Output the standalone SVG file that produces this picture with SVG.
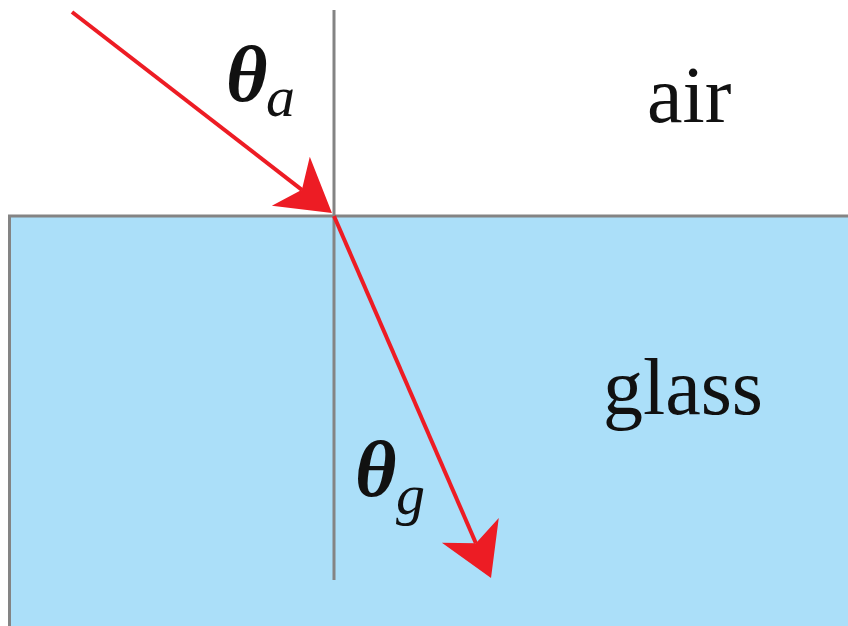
<svg xmlns="http://www.w3.org/2000/svg" width="848" height="626" viewBox="0 0 848 626">
<style>
.gray{stroke:#848484;stroke-width:3;fill:none}
.ray{stroke:#ed1c24;stroke-width:4;fill:none}
.lbl{font-family:"Liberation Serif","Times New Roman",serif;fill:#111}
.th{font-weight:bold;font-style:italic;font-size:80px}
.sub{font-style:italic;font-size:58px}
.med{font-size:80px}
</style>
<defs>
<marker id="ah" markerUnits="userSpaceOnUse" markerWidth="60" markerHeight="70" viewBox="0 -35 60 70" refX="14" refY="0" orient="auto" overflow="visible">
<path d="M52,0 L0,-31 L14,0 L0,31 Z" fill="#ed1c24"/>
</marker>
</defs>
<rect width="848" height="626" fill="#fff"/>
<g id="glass">
<rect x="9.5" y="216" width="840" height="412" fill="#abdff9"/>
<path class="gray" d="M9.5,626 V216 H848"/>
</g>
<g id="normal">
<line class="gray" x1="334" y1="10" x2="334" y2="580"/>
</g>
<g id="connectors">
<line class="ray" x1="72" y1="12" x2="301.9" y2="189.8" marker-end="url(#ah)"/>
<line class="ray" x1="334" y1="216" x2="475.9" y2="543.2" marker-end="url(#ah)"/>
</g>
<g id="theta-a">
<text class="lbl th" x="226" y="101">θ</text>
<text class="lbl sub" x="266" y="116">a</text>
</g>
<g id="theta-g">
<text class="lbl th" x="355" y="496">θ</text>
<text class="lbl sub" x="396" y="514">g</text>
</g>
<g id="air"><text class="lbl med" x="647" y="122">air</text></g>
<g id="glass-label"><text class="lbl med" x="603" y="414">glass</text></g>
</svg>
